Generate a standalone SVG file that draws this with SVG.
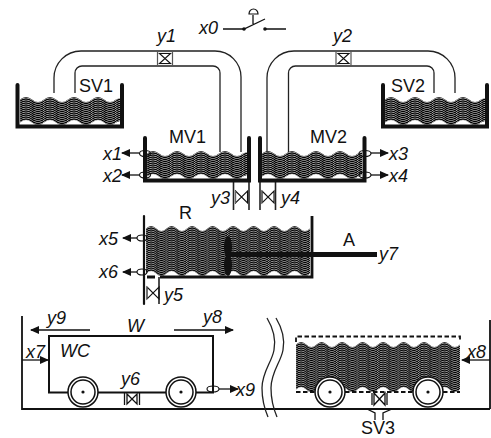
<svg xmlns="http://www.w3.org/2000/svg" xmlns:xlink="http://www.w3.org/1999/xlink" width="491" height="438" viewBox="0 0 491 438">
<style>
text{font-family:"Liberation Sans",Arial,sans-serif;font-size:18px;fill:#111}
.i{font-style:italic}
.p{fill:none;stroke:#222;stroke-width:1.3}
.w{fill:none;stroke:#111;stroke-width:4;stroke-linecap:round;stroke-linejoin:miter}
.t{fill:none;stroke:#111;stroke-width:2}
.s{fill:none;stroke:#111;stroke-width:1.3}
.e{fill:none;stroke:#111;stroke-width:1.2}
.l{fill:url(#wave)}
</style>
<defs>
<marker id="ah" markerWidth="9" markerHeight="8" refX="8" refY="4" orient="auto" markerUnits="userSpaceOnUse"><path d="M0 0L9 4L0 8Z" fill="#111"/></marker>
<pattern id="wave" patternUnits="userSpaceOnUse" width="24" height="2">
<rect width="24" height="2" fill="#fff"/>
<path d="M0 -3.750q6 -4.500 12 0t12 0M0 -1.750q6 -4.500 12 0t12 0M0 0.250q6 -4.500 12 0t12 0M0 2.250q6 -4.500 12 0t12 0M0 4.250q6 -4.500 12 0t12 0" fill="none" stroke="#000" stroke-width="1.300"/>
</pattern>
<path id="liq" d="M0 2.500q6 -5 12 0t12 0t12 0t12 0t12 0t12 0t12 0t12 0L100 1V24L96 25.500q-6 5 -12 0t-12 0t-12 0t-12 0t-12 0t-12 0t-12 0t-12 0Z"/>
<path id="liqL" d="M0 2.500q6 -5 12 0t12 0t12 0t12 0t12 0t12 0t12 0t12 0t12 0t12 0t12 0t12 0t12 0t12 0t12 0t12 0V25.500q-6 5 -12 0t-12 0t-12 0t-12 0t-12 0t-12 0t-12 0t-12 0t-12 0t-12 0t-12 0t-12 0t-12 0t-12 0t-12 0t-12 0Z"/>
<g id="vH"><rect x="0" y="0" width="15" height="14" fill="#fff" stroke="#555" stroke-width="1.2"/><path d="M2 2H13L2 12H13Z" fill="none" stroke="#111" stroke-width="1.1"/></g>
<g id="vV"><path d="M1 0L13 12V0L1 12Z" fill="none" stroke="#111" stroke-width="1.1"/><path d="M1 0V12" stroke="#666" stroke-width="1.2"/></g>
<g id="wheel"><circle r="15" fill="#fff" stroke="#111" stroke-width="1.5"/><circle r="12" fill="#fff" stroke="#111" stroke-width="1.5"/><circle r="1.600" fill="#111"/></g>
</defs>

<g id="connectors">
<path class="p" d="M54 93V78A27 27 0 0 1 81 51H215A26 26 0 0 1 241 77V152"/>
<path class="p" d="M75 93V73A7 7 0 0 1 82 66H213A7 7 0 0 1 220 73V152"/>
<path class="p" d="M267 152V78A27 27 0 0 1 294 51H428A27 27 0 0 1 455 78V93"/>
<path class="p" d="M288.500 152V73A7 7 0 0 1 295.500 66H427A7 7 0 0 1 434 73V93"/>
<path fill="none" stroke="#222" stroke-width="1.600" d="M233.500 180V210M249 180V210M260 180V210M275.500 180V210M144 277V304M159 277V304"/>
<path class="s" d="M22 360H48" marker-end="url(#ah)"/>
<path class="s" d="M490 360H462" marker-end="url(#ah)"/>
<path class="s" d="M90 330H31" marker-end="url(#ah)"/>
<path class="s" d="M174 330H233" marker-end="url(#ah)"/>
<path class="s" d="M219 389H238" marker-end="url(#ah)"/>
<path class="s" d="M139 153H122" marker-end="url(#ah)"/>
<path class="s" d="M139 175H122" marker-end="url(#ah)"/>
<path class="s" d="M371 153H388" marker-end="url(#ah)"/>
<path class="s" d="M371 175H388" marker-end="url(#ah)"/>
<path class="s" d="M137 238H123" marker-end="url(#ah)"/>
<path class="s" d="M137 272H123" marker-end="url(#ah)"/>
</g>

<g id="x0-switch">
<text class="i" x="199" y="34">x0</text>
<path class="s" d="M223 29H244L265 19M265 29H286M253 24V15"/>
<path d="M249 14A4.500 5 0 0 1 258 14Z" fill="#fff" stroke="#111" stroke-width="1.200"/>
<circle cx="244" cy="29" r="1.800" fill="#111"/><circle cx="265" cy="29" r="1.800" fill="#111"/>
</g>

<g id="y1"><use xlink:href="#vH" href="#vH" x="157.500" y="51.500"/><text class="i" x="157" y="42">y1</text></g>
<g id="y2"><use xlink:href="#vH" href="#vH" x="336" y="51.500"/><text class="i" x="333" y="42">y2</text></g>

<g id="SV1">
<use class="l" xlink:href="#liq" href="#liq" transform="translate(20 97)"/>
<path class="w" d="M17.500 85V126.500H122V85"/>
<text x="79" y="92">SV1</text>
</g>
<g id="SV2">
<use class="l" xlink:href="#liq" href="#liq" transform="translate(385 97)"/>
<path class="w" d="M383 85V126.500H487V85"/>
<text x="391" y="92">SV2</text>
</g>
<g id="MV1">
<use class="l" xlink:href="#liq" href="#liq" transform="translate(147 151)"/>
<path class="w" d="M145 138V180.500H249V138"/>
<text x="169" y="143">MV1</text>
<ellipse class="e" cx="145" cy="153.500" rx="5.500" ry="3"/><ellipse class="e" cx="145" cy="175" rx="5.500" ry="3"/>
<text class="i" x="103" y="160">x1</text><text class="i" x="103" y="182">x2</text>
</g>
<g id="MV2">
<use class="l" xlink:href="#liq" href="#liq" transform="translate(262 151)"/>
<path class="w" d="M260 138V180.500H364.500V138"/>
<text x="310" y="143">MV2</text>
<ellipse class="e" cx="365" cy="153.500" rx="6" ry="3"/><ellipse class="e" cx="365" cy="175" rx="6" ry="3"/>
<text class="i" x="389" y="160">x3</text><text class="i" x="389" y="182">x4</text>
</g>
<g id="y3"><use xlink:href="#vV" href="#vV" x="234.500" y="191"/><text class="i" x="211" y="204">y3</text></g>
<g id="y4"><use xlink:href="#vV" href="#vV" x="261" y="191"/><text class="i" x="281" y="204">y4</text></g>

<g id="R">
<g transform="translate(146 226) scale(.854 1)"><use class="l" xlink:href="#liqL" href="#liqL"/></g>
<g transform="translate(146 248) scale(.854 1)"><use class="l" xlink:href="#liqL" href="#liqL"/></g>
<path d="M144 216V304" class="w" style="stroke-width:2.200"/>
<path d="M312 216V277H160M147 277H155" class="w" style="stroke-width:2.800;stroke-linecap:butt"/>
<text x="179" y="219">R</text>
<ellipse class="e" cx="142" cy="238" rx="5" ry="3"/><ellipse class="e" cx="142" cy="272" rx="5" ry="3"/>
<text class="i" x="99" y="245">x5</text><text class="i" x="99" y="278">x6</text>
</g>
<g id="y5"><use xlink:href="#vV" href="#vV" x="146" y="287"/><text class="i" x="164" y="301">y5</text></g>
<g id="A">
<ellipse cx="228" cy="247" rx="4" ry="11" fill="#111"/><ellipse cx="228" cy="265" rx="4" ry="11" fill="#111"/>
<path d="M228 254.500H377" stroke="#111" stroke-width="5" fill="none"/>
<text x="343" y="246">A</text>
<text class="i" x="379" y="260">y7</text>
</g>

<g id="floor">
<path class="t" d="M22 316V409H490M490 320V409" style="stroke-width:1.800"/>
<path class="p" d="M267 318C273 328 276 340 274 350C272 362 262 372 262 388C262 400 265 410 268 417M276 318C282 328 285 340 283 350C281 362 271 372 271 388C271 400 274 410 277 417"/>
</g>

<g id="WC">
<path class="t" d="M49 392.500V336H213V392.500Z"/>
<use xlink:href="#wheel" href="#wheel" x="83" y="392"/>
<use xlink:href="#wheel" href="#wheel" x="181" y="392"/>
<ellipse class="e" cx="213" cy="389" rx="6" ry="3"/>
<text class="i" x="60" y="357">WC</text>
<text class="i" x="127" y="332">W</text>
<text class="i" x="26" y="358">x7</text>
<text class="i" x="47" y="324">y9</text>
<text class="i" x="203" y="323">y8</text>
<text class="i" x="236" y="396">x9</text>
</g>
<g id="y6"><path class="s" d="M124.500 393V405M139.500 393V405M127 394L137 404V394L127 404Z"/><text class="i" x="121" y="385">y6</text></g>

<g id="SV3">
<g transform="translate(296 342) scale(.854 1)"><use class="l" xlink:href="#liqL" href="#liqL"/></g>
<g transform="translate(296 364) scale(.854 1)"><use class="l" xlink:href="#liqL" href="#liqL"/></g>
<path d="M296 342V336.500H460V342" fill="none" stroke="#111" stroke-width="1.800" stroke-dasharray="4.500 2.500"/>
<path d="M296 392H460" fill="none" stroke="#111" stroke-width="1.800" stroke-dasharray="4.500 2.500"/>
<use xlink:href="#wheel" href="#wheel" x="330" y="392"/>
<use xlink:href="#wheel" href="#wheel" x="428" y="392"/>
<path class="s" d="M372 393V405M387 393V405"/><path d="M374 393L385 405V393L374 405Z" fill="#fff" stroke="#111" stroke-width="1.300"/>
<path class="s" d="M367 409L375 413V420M392 409L383 413V420"/>
<text x="361" y="434">SV3</text>
<text class="i" x="467" y="358">x8</text>
</g>
</svg>
